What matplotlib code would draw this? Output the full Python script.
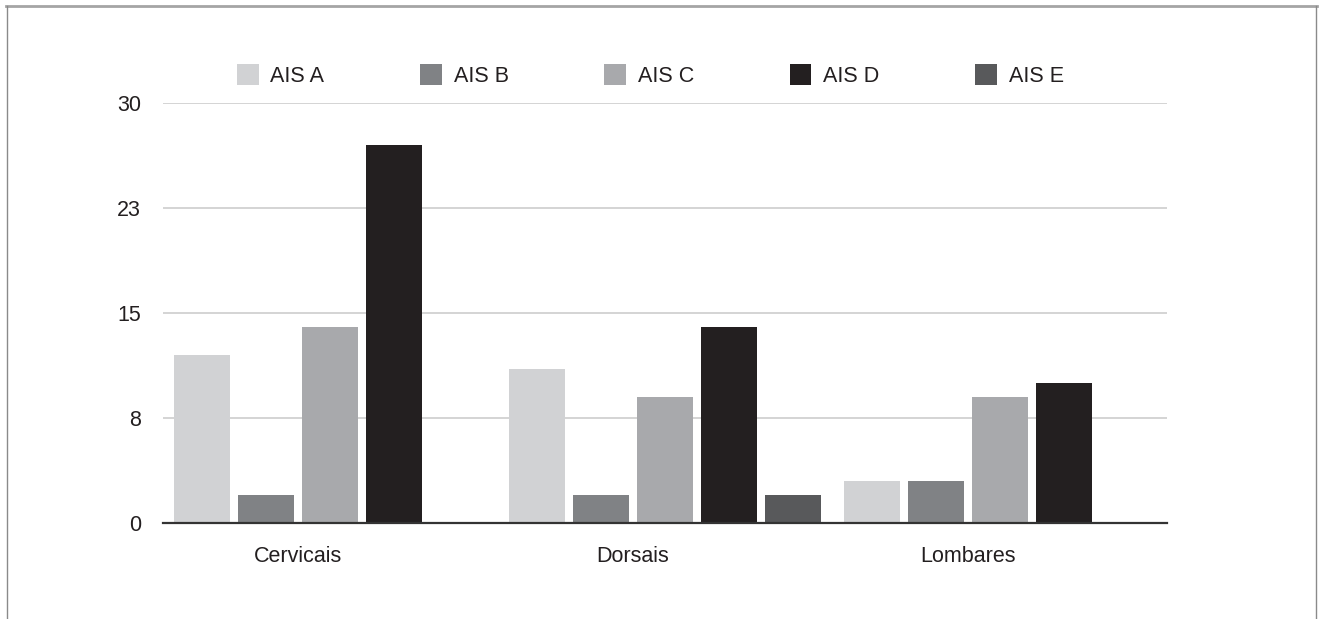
import numpy as np
import matplotlib.pyplot as plt
from matplotlib.lines import Line2D
from matplotlib.patches import Patch

plt.rcParams['font.family'] = ['Liberation Sans', 'DejaVu Sans']

# valores por segmento da coluna
regioes = ['Cervicais', 'Dorsais', 'Lombares']
series = ['AIS A', 'AIS B', 'AIS C', 'AIS D', 'AIS E']
ais_a = [12, 11, 3]
ais_b = [2, 2, 3]
ais_c = [14, 9, 9]
ais_d = [27, 14, 10]
ais_e = [0, 2, 0]
yticks = [0, 7.5, 15, 22.5, 30]
ytick_labels = ['0', '8', '15', '23', '30']

cores = ['#d1d2d4', '#808285', '#a8a9ac', '#231f20', '#58595b']
texto = '#231f20'

valores = [ais_a, ais_b, ais_c, ais_d, ais_e]

fig = plt.figure(figsize=(13.2, 6.19), dpi=100)
ax = fig.add_axes([163 / 1320, 1 - 523.3 / 619, 1004 / 1320, 420 / 619])

x = np.arange(len(regioes))
passo = 0.1913
larg = 0.1674
for j, (nome, vals) in enumerate(zip(series, valores)):
    ax.bar(x + (j - 2) * passo, vals, width=larg, color=cores[j], label=nome, zorder=3)

ax.set_xlim(-0.5, 2.5)
ax.set_ylim(0, 30)
ax.set_yticks(yticks)
ax.set_yticklabels(ytick_labels)
ax.set_xticks(x - passo / 2)
ax.set_xticklabels(regioes)
ax.tick_params(axis='both', length=0, labelsize=15.5, colors=texto)
ax.tick_params(axis='y', pad=16)
ax.tick_params(axis='x', pad=16)

ax.grid(axis='y', color='#d4d4d4', linewidth=1.4, zorder=0)
ax.set_axisbelow(True)
for s in ['top', 'right', 'left']:
    ax.spines[s].set_visible(False)
ax.spines['bottom'].set_color('#333333')
ax.spines['bottom'].set_linewidth(1.6)
ax.spines['bottom'].set_zorder(4)

handles = [Patch(facecolor=c, edgecolor='none') for c in cores]
leg = fig.legend(handles, series, loc='center left', ncol=5,
                 bbox_to_anchor=(237 / 1320, 1 - 75.5 / 619),
                 frameon=False, fontsize=15.5, handlelength=1.0, handleheight=1.1,
                 handletextpad=0.55, columnspacing=4.45, borderpad=0, borderaxespad=0)
for t in leg.get_texts():
    t.set_color(texto)

# moldura aberta em baixo
fig.add_artist(Line2D([6 / 1320, 1317 / 1320], [1 - 6 / 619, 1 - 6 / 619],
                      transform=fig.transFigure, color='#a5a5a5', linewidth=2))
fig.add_artist(Line2D([7 / 1320, 7 / 1320], [0, 1 - 6 / 619],
                      transform=fig.transFigure, color='#8a8a8a', linewidth=1))
fig.add_artist(Line2D([1316 / 1320, 1316 / 1320], [0, 1 - 6 / 619],
                      transform=fig.transFigure, color='#8a8a8a', linewidth=1))

fig.savefig('out.png', dpi=100)
